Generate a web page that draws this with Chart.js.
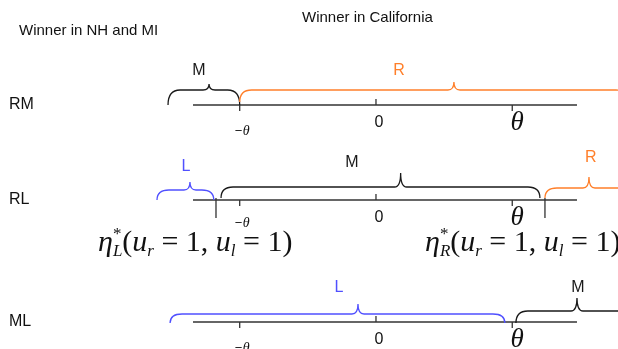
<!DOCTYPE html>
<html><head><meta charset="utf-8">
<script src="https://cdn.jsdelivr.net/npm/chart.js@4/dist/chart.umd.min.js"></script>
<style>html,body{margin:0;padding:0;background:#fff}#c{display:block}</style>
</head><body>
<canvas id="c" width="618" height="349"></canvas>
<script>
// ---- data (x in units of theta; y in row-level units) ----
const rowNames = ['RM', 'RL', 'ML'];
const rowLevel = [105, 200, 322];
const lineRange = [-1.343, 1.475];
const tickValues = [-1, 0, 1];
const tickLabels = ['\u2212\u03B8', '0', '\u03B8'];
const tickDir = [1, -1, 1];            // down, up, down
const cutoffX = [-1.174, 1.240];       // eta_L*, eta_R* on row RL
const cutoffLabels = ['L', 'R'];

const braceRow   = [0, 0, 1, 1, 1, 2, 2];
const braceParty = ['M', 'R', 'L', 'M', 'R', 'L', 'M'];
const braceStart = [-1.526, -1.0, -1.607, -1.137, 1.240, -1.511, 1.027];
const braceTipX  = [-1.225, 0.572, -1.365, 0.181, 1.563, -0.132, 1.475];
const braceEnd   = [-1.0, 1.849, -1.19, 1.203, 1.886, 0.946, 1.922];
const braceBase  = [105, 102, 200, 198, 198, 323, 323];
const braceTop   = [90, 90, 190, 187, 188, 314, 311];
const braceTipY  = [84, 82, 182, 173, 177, 304, 298];
const labelX     = [-1.299, 0.169, -1.394, -0.176, 1.577, -0.271, 1.482];
const labelY     = [71, 71, 167, 163, 158, 288, 288];

const partyColor = { M: '#1a1a1a', R: '#ff7f2a', L: '#5050ff' };
const axisColor = '#333333';

// ---- datasets built from the arrays ----
const datasets = [];
rowLevel.forEach((lv, r) => {
  datasets.push({ data: [{x: lineRange[0], y: lv}, {x: lineRange[1], y: lv}] });
  tickValues.forEach((t, i) => {
    datasets.push({ data: [{x: t, y: lv}, {x: t, y: lv + 6 * tickDir[i]}] });
  });
});
cutoffX.forEach(cx => {
  datasets.push({ data: [{x: cx, y: rowLevel[1] - 2}, {x: cx, y: rowLevel[1] + 18}] });
});
datasets.forEach(d => Object.assign(d, {
  showLine: true, borderColor: axisColor, borderWidth: 1.3, pointRadius: 0, fill: false
}));

const drawPlugin = {
  id: 'diagram',
  afterDatasetsDraw(chart) {
    const ctx = chart.ctx, xs = chart.scales.x, ys = chart.scales.y;
    const X = v => xs.getPixelForValue(v), Y = v => ys.getPixelForValue(v);
    ctx.save();
    // braces
    braceRow.forEach((r, i) => {
      const x0 = X(braceStart[i]), xt = X(braceTipX[i]), x1 = X(braceEnd[i]);
      const yb = Y(braceBase[i]), yt = Y(braceTop[i]), yp = Y(braceTipY[i]);
      const re = 12, rt = 6;
      ctx.beginPath();
      ctx.moveTo(x0, yb);
      ctx.quadraticCurveTo(x0, yt, x0 + re, yt);
      ctx.lineTo(xt - rt, yt);
      ctx.quadraticCurveTo(xt, yt, xt, yp);
      ctx.quadraticCurveTo(xt, yt, xt + rt, yt);
      ctx.lineTo(x1 - re, yt);
      ctx.quadraticCurveTo(x1, yt, x1, yb);
      ctx.strokeStyle = partyColor[braceParty[i]];
      ctx.lineWidth = 1.3;
      ctx.stroke();
      ctx.fillStyle = partyColor[braceParty[i]];
      ctx.font = '16px "Liberation Sans", Arial, sans-serif';
      ctx.textAlign = 'center'; ctx.textBaseline = 'middle';
      ctx.fillText(braceParty[i], X(labelX[i]), Y(labelY[i]));
    });
    // row names and tick labels
    ctx.fillStyle = '#111';
    rowLevel.forEach((lv, r) => {
      ctx.font = '16px "Liberation Sans", Arial, sans-serif';
      ctx.textAlign = 'left'; ctx.textBaseline = 'middle';
      ctx.fillText(rowNames[r], 9, Y(lv));
      // 0
      ctx.font = '16px "Liberation Sans", Arial, sans-serif';
      ctx.textAlign = 'center';
      ctx.fillText(tickLabels[1], X(tickValues[1]) + 3, Y(lv + 18));
      // theta
      ctx.font = 'italic 27px "Liberation Serif", "DejaVu Serif", serif';
      ctx.fillText(tickLabels[2], X(tickValues[2]) + 5, Y(lv + 18));
      // -theta
      ctx.font = '13px "Liberation Sans", Arial, sans-serif';
      ctx.textAlign = 'left';
      const mx = X(tickValues[0]) - 5, my = Y(lv + (r === 1 ? 23 : 26));
      ctx.fillText('\u2212', mx, my);
      ctx.font = 'italic 14px "Liberation Serif", serif';
      ctx.fillText('\u03B8', mx + 8, my);
    });
    // titles
    ctx.font = '15px "Liberation Sans", Arial, sans-serif';
    ctx.textAlign = 'left'; ctx.textBaseline = 'alphabetic';
    ctx.fillText('Winner in NH and MI', 19, 35);
    ctx.fillText('Winner in California', 302, 22);
    // eta formulas
    const formula = (sub, x0, yb) => {
      let x = x0;
      const big = 30, small = 17;
      const put = (t, style, size, dy) => {
        ctx.font = style + ' ' + size + 'px "Liberation Serif", "Times New Roman", serif';
        ctx.fillText(t, x, yb + dy);
        x += ctx.measureText(t).width;
      };
      ctx.textAlign = 'left'; ctx.textBaseline = 'alphabetic';
      put('\u03B7', 'italic', big, 0);
      const sx = x;
      put('*', 'normal', small, -12);
      x = sx;
      put(sub, 'italic', small, 5);
      put('(', 'normal', big, 0);
      put('u', 'italic', big, 0);
      put('r', 'italic', small, 5);
      put(' = 1, ', 'normal', big, 0);
      put('u', 'italic', big, 0);
      put('l', 'italic', small, 5);
      put(' = 1)', 'normal', big, 0);
    };
    formula(cutoffLabels[0], 98, Y(rowLevel[1] + 51));
    formula(cutoffLabels[1], 425, Y(rowLevel[1] + 51));
    ctx.restore();
  }
};

new Chart(document.getElementById('c'), {
  type: 'scatter',
  data: { datasets },
  options: {
    responsive: false, animation: false,
    layout: { padding: 0 },
    plugins: { legend: { display: false }, tooltip: { enabled: false } },
    scales: {
      x: { type: 'linear', display: false, min: -2.759, max: 1.776 },
      y: { type: 'linear', display: false, min: 0, max: 349, reverse: true }
    }
  },
  plugins: [drawPlugin]
});
</script>
</body></html>
